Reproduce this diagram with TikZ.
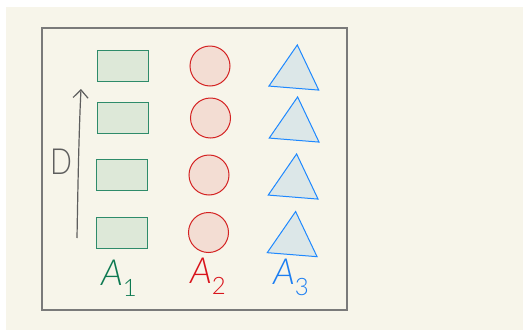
\documentclass[tikz,border=0pt]{standalone}
\usepackage{fontspec}
\usetikzlibrary{shapes.geometric,arrows.meta}
\newfontfamily\hand{Lato}[UprightFont=* Light, ItalicFont=* Light Italic]
\definecolor{paper}{HTML}{F7F5EA}
\definecolor{framec}{HTML}{7A7A7A}
\definecolor{gfill}{HTML}{DDE8D8}
\definecolor{gline}{HTML}{2E8B6A}
\definecolor{glab}{HTML}{0E7A52}
\definecolor{rfill}{HTML}{F3DDD3}
\definecolor{rline}{HTML}{D42222}
\definecolor{rlab}{HTML}{D9141C}
\definecolor{bfill}{HTML}{DCE7E8}
\definecolor{bline}{HTML}{1E88FF}
\definecolor{blab}{HTML}{1C7EF2}
\definecolor{arr}{HTML}{5E5E5E}
\tikzset{
  box/.style={draw=gline, fill=gfill, line width=1pt, minimum width=51pt, minimum height=31pt, inner sep=0pt},
  disc/.style={circle, draw=rline, fill=rfill, line width=1pt, minimum size=40pt, inner sep=0pt},
  tri/.style={regular polygon, regular polygon sides=3, draw=bline, fill=bfill, line width=1pt, minimum size=57.7pt, inner sep=0pt, outer sep=0pt, rotate=-4.6},
  lab/.style={font=\hand\fontsize{36}{36}\selectfont, inner sep=0pt},
}
\newcommand{\subn}[1]{\raisebox{-0.3em}{\upshape\fontsize{24}{24}\selectfont #1}}
\begin{document}
\begin{tikzpicture}[x=1pt,y=-1pt]
\useasboundingbox (0,0) rectangle (523,330);
\fill[white] (0,0) rectangle (523,330);
\fill[paper] (6,7) rectangle (523,330);
\node[draw=framec, line width=1.2pt, minimum width=305pt, minimum height=282pt, inner sep=0pt] (frame) at (194.5,169) {};
% rectangles
\node[box] (r1) at (122.5,65.5) {};
\node[box] (r2) at (122.5,117.5) {};
\node[box] (r3) at (121.5,174.5) {};
\node[box] (r4) at (121.5,232.5) {};
% circles
\node[disc] (c1) at (210,66) {};
\node[disc] (c2) at (210.5,118) {};
\node[disc] (c3) at (209,175) {};
\node[disc] (c4) at (208.5,232.5) {};
% triangles
\node[tri] (t1) at (295,73.7) {};
\node[tri] (t2) at (295.3,125.7) {};
\node[tri] (t3) at (294.3,182.7) {};
\node[tri] (t4) at (293.3,240.3) {};
% labels
\node[lab, text=glab] (a1) at (119,278) {\itshape A\subn{1}};
\node[lab, text=rlab] (a2) at (208,276) {\itshape A\subn{2}};
\node[lab, text=blab] (a3) at (291,277) {\itshape A\subn{3}};
% arrow
\coordinate (ab) at (77,238);
\coordinate (at) at (81,89);
\draw[arr, line width=1.2pt, -{Straight Barb[length=8pt,width=15pt]}] (ab) .. controls (78,180) and (79,130) .. (at);
\node[text=arr, font=\hand\fontsize{36}{36}\selectfont, inner sep=0pt, xscale=0.8] (d) at (61,162) {D};
\end{tikzpicture}
\end{document}
